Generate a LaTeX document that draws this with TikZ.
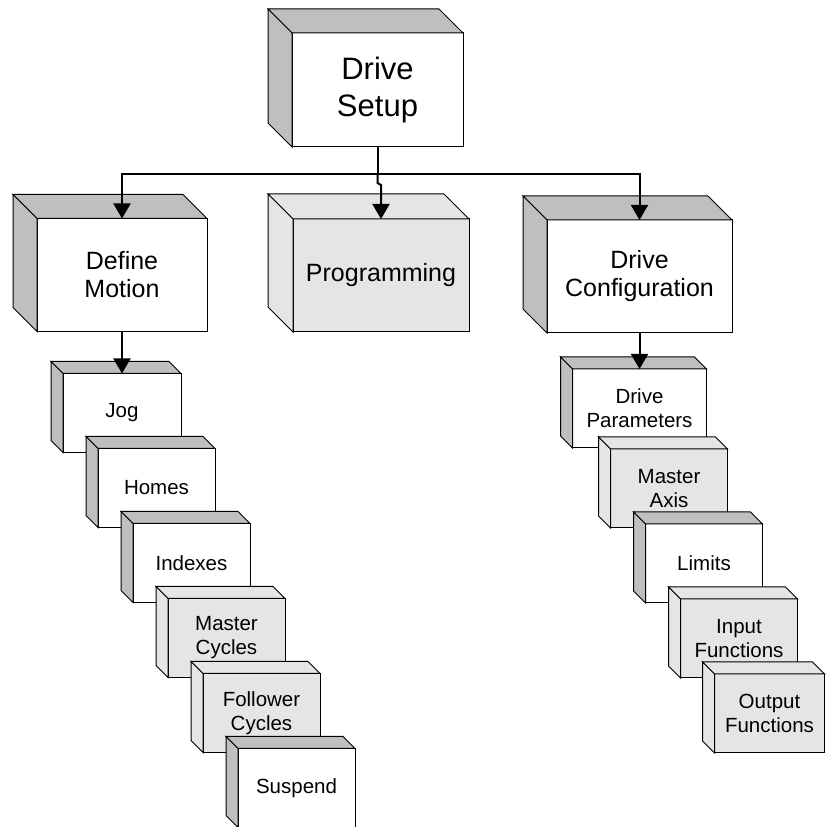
\documentclass[tikz,border=0pt]{standalone}
\usepackage{fontspec}
\setmainfont{Liberation Sans}
\usepackage{tikz}
\usetikzlibrary{arrows.meta,positioning}
\definecolor{facegray}{gray}{0.75}
\definecolor{lightbox}{gray}{0.9}
\tikzstyle{face}=[
	draw=black,
	line width=1pt
]
\tikzstyle{box}=[
	rectangle,
	draw=black,
	line width=1pt,
	fill=white,
	inner sep=0pt,
	outer sep=0pt,
	align=center
]
\tikzstyle{bigbox}=[
	box,
	font=\fontsize{31pt}{37pt}\selectfont
]
\tikzstyle{midbox}=[
	box,
	minimum height=113pt,
	font=\fontsize{25pt}{28pt}\selectfont
]
\tikzstyle{smallbox}=[
	box,
	minimum width=117pt,
	minimum height=79pt,
	font=\fontsize{20.5pt}{24pt}\selectfont
]
\tikzstyle{conn}=[
	draw=black,
	line width=2pt
]
\tikzstyle{arrow}=[
	conn,
	-{Triangle[length=15pt,width=17pt]}
]
% top and left faces of a box: node, depth, colour
\newcommand{\boxfaces}[3]{%
	\filldraw[face,fill=#3] (#1.north west) -- ++(-#2,#2) -- ([shift={(-#2,#2)}]#1.north east) -- (#1.north east) -- cycle;
	\filldraw[face,fill=#3] (#1.north west) -- ++(-#2,#2) -- ([shift={(-#2,#2)}]#1.south west) -- (#1.south west) -- cycle;
}

\begin{document}
\begin{tikzpicture}[x=1pt,y=1pt]
\useasboundingbox (0,0) rectangle (826,827);

\node[bigbox, minimum width=171pt, minimum height=114pt] (setup) at (377.5,737) {Drive\\Setup};
\boxfaces{setup}{24}{facegray}
\node[midbox, minimum width=170pt] (motion) at (122,552) {Define\\Motion};
\boxfaces{motion}{24}{facegray}
\node[midbox, minimum width=176pt, fill=lightbox] (prog) at (381,551.5) {Programming};
\boxfaces{prog}{25}{lightbox}
\node[midbox, minimum width=185pt] (config) at (639.5,550.5) {Drive\\Configuration};
\boxfaces{config}{24}{facegray}

% motion stack
\node[smallbox, minimum width=118pt, below=42pt of motion] (jog) {Jog};
\boxfaces{jog}{12}{facegray}
\node[smallbox, anchor=north west] (homes) at ([shift={(35,-75)}]jog.north west) {Homes};
\boxfaces{homes}{12}{facegray}
\node[smallbox, anchor=north west] (indexes) at ([shift={(35,-75)}]homes.north west) {Indexes};
\boxfaces{indexes}{12}{facegray}
\node[smallbox, anchor=north west, fill=lightbox] (mcycles) at ([shift={(35,-75)}]indexes.north west) {Master\\Cycles};
\boxfaces{mcycles}{12}{lightbox}
\node[smallbox, anchor=north west, fill=lightbox] (fcycles) at ([shift={(35,-75)}]mcycles.north west) {Follower\\Cycles};
\boxfaces{fcycles}{12}{lightbox}
\node[smallbox, anchor=north west] (suspend) at ([shift={(35,-75)}]fcycles.north west) {Suspend};
\boxfaces{suspend}{12}{facegray}

% configuration stack
\node[smallbox, minimum width=134pt, below=36pt of config] (params) {Drive\\Parameters};
\boxfaces{params}{12}{facegray}
\node[smallbox, anchor=north west, fill=lightbox] (maxis) at ([shift={(38,-80)}]params.north west) {Master\\Axis};
\boxfaces{maxis}{12}{lightbox}
\node[smallbox, anchor=north west] (limits) at ([shift={(35,-75)}]maxis.north west) {Limits};
\boxfaces{limits}{12}{facegray}
\node[smallbox, anchor=north west, fill=lightbox] (infunc) at ([shift={(35,-75)}]limits.north west) {Input\\Functions};
\boxfaces{infunc}{12}{lightbox}
\node[smallbox, anchor=north west, fill=lightbox, minimum width=110pt] (outfunc) at ([shift={(34,-75)}]infunc.north west) {Output\\Functions};
\boxfaces{outfunc}{12}{lightbox}

\coordinate (bus) at ([yshift=-27pt]setup.south);
\draw[conn] (setup.south) -- (bus);
\draw[arrow] (bus) -| (motion.north);
\draw[arrow] (bus) -| (config.north);
\draw[arrow] (bus) -- ++(0,-9) -- ++(3.5,-2) -- (prog.north);
\draw[arrow] (motion) -- (jog);
\draw[arrow] (config) -- (params);

\end{tikzpicture}
\end{document}
